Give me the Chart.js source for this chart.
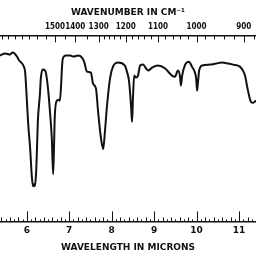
<!DOCTYPE html>
<html>
<head>
<meta charset="utf-8">
<script src="https://cdn.jsdelivr.net/npm/chart.js@4/dist/chart.umd.min.js"></script>
<style>
  html, body { margin: 0; padding: 0; background: #fff; }
  #wrap { width: 256px; height: 256px; }
</style>
</head>
<body>
<div id="wrap"><canvas id="spectrum"></canvas></div>
<script>
// --- DATA ---
// wavelength in microns
const wavelength = [
    5.37, 5.49, 5.60, 5.67, 5.77, 5.82, 5.89, 5.93, 5.96, 6.00,
    6.03, 6.08, 6.12, 6.15, 6.17, 6.19, 6.22, 6.24, 6.26, 6.31,
    6.33, 6.38, 6.43, 6.45, 6.50, 6.55, 6.59, 6.62, 6.64, 6.66,
    6.71, 6.76, 6.78, 6.81, 6.83, 6.85, 6.92, 7.02, 7.11, 7.21,
    7.30, 7.35, 7.42, 7.51, 7.56, 7.63, 7.68, 7.75, 7.80, 7.84,
    7.89, 7.96, 8.03, 8.15, 8.31, 8.36, 8.41, 8.46, 8.48, 8.50,
    8.53, 8.57, 8.62, 8.67, 8.74, 8.81, 8.86, 8.95, 9.09, 9.26,
    9.37, 9.42, 9.49, 9.56, 9.61, 9.63, 9.66, 9.73, 9.82, 9.89,
    9.96, 9.99, 10.01, 10.03, 10.06, 10.13, 10.32, 10.46, 10.60, 10.74,
    10.86, 11.02, 11.09, 11.14, 11.21, 11.28, 11.33, 11.40
];
// transmittance, percent
const transmittance = [
    89.2, 90.3, 89.7, 90.8, 88.6, 86.5, 84.9, 83.2, 80.5, 65.9,
    53.5, 38.9, 23.8, 18.9, 20.0, 18.9, 26.5, 38.9, 53.5, 68.6,
    76.8, 81.6, 81.1, 80.0, 71.4, 57.8, 44.3, 25.4, 38.9, 56.8,
    64.9, 65.4, 64.9, 74.1, 83.2, 87.6, 89.2, 89.2, 88.6, 89.2,
    88.1, 85.9, 80.5, 80.0, 74.1, 71.4, 58.9, 44.3, 38.9, 48.1,
    62.2, 76.8, 83.2, 85.4, 83.8, 80.5, 75.1, 60.5, 53.5, 65.9,
    78.4, 77.3, 78.4, 83.8, 84.3, 82.2, 81.1, 82.7, 83.8, 82.2,
    79.5, 78.4, 77.8, 81.1, 77.8, 73.0, 78.4, 84.3, 85.9, 83.2,
    80.0, 76.8, 70.3, 74.1, 81.1, 83.8, 84.3, 84.9, 85.4, 84.9,
    84.3, 83.2, 81.1, 78.4, 70.3, 64.3, 63.8, 64.9
];

// axis labelling
const micronLabels = [6, 7, 8, 9, 10, 11];
const wavenumberLabels = [1500, 1400, 1300, 1200, 1100, 1000, 900];
const wavenumberTicks = [
    1850, 1800, 1750, 1700, 1650, 1600, 1550, 1500, 1450, 1400, 1350, 1300,
    1280, 1260, 1240, 1220, 1200, 1180, 1160, 1140, 1120, 1100, 1080, 1060,
    1040, 1020, 1000, 980, 960, 940, 920, 900, 880
];
const X_MIN = 5.369;
const X_MAX = 11.399;

const FONT = '"DejaVu Sans", sans-serif';
const FONT_COND = '"DejaVu Sans Condensed", "DejaVu Sans", sans-serif';

// inward tick marks on both wavelength/wavenumber axes
const innerTicks = {
    id: 'innerTicks',
    afterDraw(chart) {
        const ctx = chart.ctx;
        const area = chart.chartArea;
        const xs = chart.scales.x;
        ctx.save();
        ctx.strokeStyle = '#111';
        ctx.lineWidth = 1;
        // bottom: microns, every 0.1
        for (let i = 54; i <= 114; i++) {
            const v = i / 10;
            const px = Math.round(xs.getPixelForValue(v)) + 0.5;
            let len = (i % 2 === 0) ? 4 : 2;
            if (i % 10 === 0) len = 10;
            ctx.beginPath();
            ctx.moveTo(px, area.bottom);
            ctx.lineTo(px, area.bottom - len);
            ctx.stroke();
        }
        // top: wavenumbers
        wavenumberTicks.forEach(wn => {
            const px = Math.round(xs.getPixelForValue(10000 / wn)) + 0.5;
            const len = wavenumberLabels.includes(wn) ? 7 : 4;
            ctx.beginPath();
            ctx.moveTo(px, area.top);
            ctx.lineTo(px, area.top + len);
            ctx.stroke();
        });
        ctx.restore();
    }
};

new Chart(document.getElementById('spectrum'), {
    type: 'line',
    data: {
        datasets: [{
            data: wavelength.map((w, i) => ({ x: w, y: transmittance[i] })),
            borderColor: '#111',
            borderWidth: 2,
            pointRadius: 0,
            cubicInterpolationMode: 'monotone',
            fill: false
        }]
    },
    options: {
        responsive: true,
        maintainAspectRatio: false,
        animation: false,
        layout: { padding: { top: 3, left: 0, right: 0, bottom: 0 } },
        plugins: { legend: { display: false }, tooltip: { enabled: false } },
        scales: {
            x: {
                type: 'linear',
                position: 'bottom',
                min: X_MIN,
                max: X_MAX,
                afterBuildTicks: s => { s.ticks = micronLabels.map(v => ({ value: v })); },
                grid: { display: true, drawOnChartArea: false, drawTicks: false },
                border: { display: true, color: '#111', width: 1.5 },
                ticks: {
                    color: '#111', padding: 4, maxRotation: 0, autoSkip: false,
                    font: { family: FONT, size: 9, weight: 'bold' },
                    callback: v => String(v)
                },
                title: {
                    display: true, text: 'WAVELENGTH IN MICRONS', color: '#111',
                    font: { family: FONT, size: 9, weight: 'bold' },
                    padding: { top: 2, bottom: 3 }
                }
            },
            x2: {
                type: 'linear',
                position: 'top',
                min: X_MIN,
                max: X_MAX,
                afterBuildTicks: s => { s.ticks = wavenumberLabels.map(wn => ({ value: 10000 / wn, label: wn })); },
                grid: { display: true, drawOnChartArea: false, drawTicks: false },
                border: { display: true, color: '#111', width: 1.5 },
                ticks: {
                    color: '#111', padding: 4, maxRotation: 0, autoSkip: false,
                    font: { family: FONT_COND, size: 8, weight: 'bold' },
                    callback: (v, i) => String(wavenumberLabels[i])
                },
                title: {
                    display: true, text: 'WAVENUMBER IN CM⁻¹', color: '#111',
                    font: { family: FONT, size: 9, weight: 'bold' },
                    padding: { top: 4, bottom: 0 }
                }
            },
            y: { display: false, min: 0, max: 100 }
        }
    },
    plugins: [innerTicks]
});
</script>
</body>
</html>
